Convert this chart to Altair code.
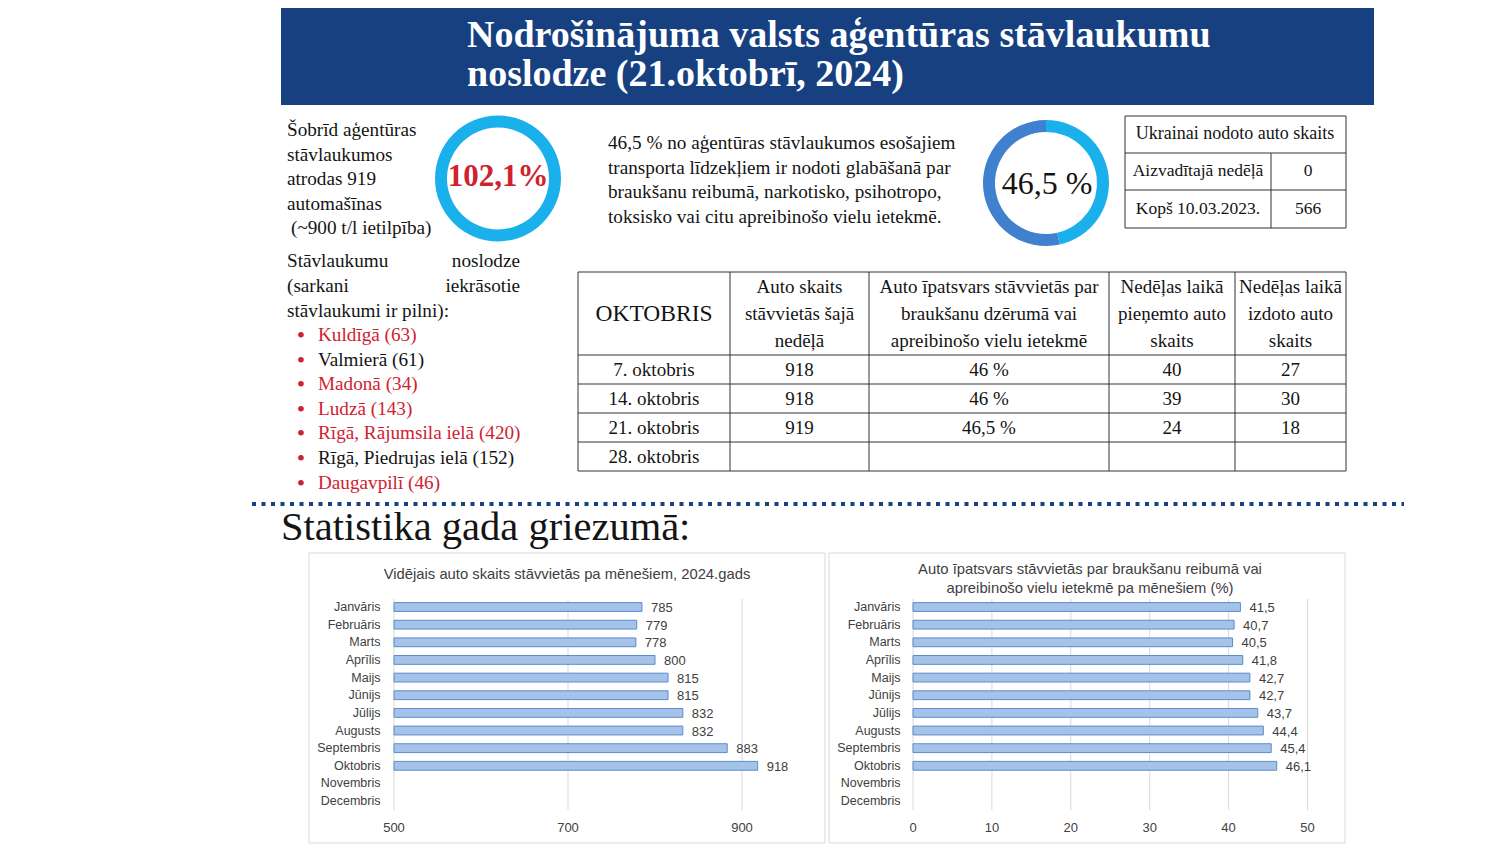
import altair as alt
import pandas as pd

OFF = 8  # page margin


def P(v):
    return v - OFF


SERIF = "Liberation Serif"
SANS = "Liberation Sans"
INK = "#141414"
RED = "#d0212f"
NAVY = "#16407f"
GREY_TXT = "#404040"

# ---------------- data ----------------
title_lines = ["Nodrošinājuma valsts aģentūras stāvlaukumu", "noslodze (21.oktobrī, 2024)"]
occupancy_pct = [102.1]
occupancy_label = "102,1%"
intro_lines = ["Šobrīd aģentūras", "stāvlaukumos", "atrodas 919", "automašīnas", "(~900 t/l ietilpība)"]
load_left = ["Stāvlaukumu", "(sarkani", "stāvlaukumi ir pilni):"]
load_right = ["noslodze", "iekrāsotie"]
lots = ["Kuldīgā (63)", "Valmierā (61)", "Madonā (34)", "Ludzā (143)",
        "Rīgā, Rājumsila ielā (420)", "Rīgā, Piedrujas ielā (152)", "Daugavpilī (46)"]
lots_full = [True, False, True, True, True, False, True]
dui_parts = ["reibumā", "citi"]
dui_share = [46.5, 53.5]
dui_label = "46,5 %"
dui_lines = ["46,5 % no aģentūras stāvlaukumos esošajiem",
             "transporta līdzekļiem ir nodoti glabāšanā par",
             "braukšanu reibumā, narkotisko, psihotropo,",
             "toksisko vai citu apreibinošo vielu ietekmē."]
ukr_title = "Ukrainai nodoto auto skaits"
ukr_rows = ["Aizvadītajā nedēļā", "Kopš 10.03.2023."]
ukr_vals = ["0", "566"]
table_head = "OKTOBRIS"
col_heads = [["Auto skaits", "stāvvietās šajā", "nedēļā"],
             ["Auto īpatsvars stāvvietās par", "braukšanu dzērumā vai", "apreibinošo vielu ietekmē"],
             ["Nedēļas laikā", "pieņemto auto", "skaits"],
             ["Nedēļas laikā", "izdoto auto", "skaits"]]
weeks = ["7. oktobris", "14. oktobris", "21. oktobris", "28. oktobris"]
week_cars = ["918", "918", "919", ""]
week_share = ["46 %", "46 %", "46,5 %", ""]
week_in = ["40", "39", "24", ""]
week_out = ["27", "30", "18", ""]
section_title = "Statistika gada griezumā:"
months = ["Janvāris", "Februāris", "Marts", "Aprīlis", "Maijs", "Jūnijs", "Jūlijs",
          "Augusts", "Septembris", "Oktobris", "Novembris", "Decembris"]
avg_cars = [785, 779, 778, 800, 815, 815, 832, 832, 883, 918]
dui_monthly = [41.5, 40.7, 40.5, 41.8, 42.7, 42.7, 43.7, 44.4, 45.4, 46.1]
chart1_title = ["Vidējais auto skaits stāvvietās pa mēnešiem, 2024.gads"]
chart2_title = ["Auto īpatsvars stāvvietās par braukšanu reibumā vai",
                "apreibinošo vielu ietekmē pa mēnešiem (%)"]
ticks1 = [500, 700, 900]
ticks2 = [0, 10, 20, 30, 40, 50]

# ---------------- helpers ----------------
PX = dict(scale=None, axis=None)
BODY = 19.2


def text_layer(rows, align="left", font=SERIF, weight="normal"):
    df = pd.DataFrame(rows, columns=["x", "y", "t", "c", "s"])
    df["x"] = df["x"] - OFF
    df["y"] = df["y"] - OFF
    return alt.Chart(df).mark_text(align=align, baseline="middle", font=font, fontWeight=weight).encode(
        x=alt.X("x:Q", **PX),
        y=alt.Y("y:Q", **PX),
        text="t:N",
        color=alt.Color("c:N", scale=None),
        size=alt.Size("s:Q", scale=None),
    )


def rule_layer(segs, color, width, dash=None):
    df = pd.DataFrame(segs, columns=["x", "y", "x2", "y2"]) - OFF
    kw = dict(color=color, strokeWidth=width)
    if dash:
        kw["strokeDash"] = dash
    return alt.Chart(df).mark_rule(**kw).encode(
        x=alt.X("x:Q", **PX), y=alt.Y("y:Q", **PX), x2="x2:Q", y2="y2:Q")


def rect_layer(boxes, fill=None, stroke=None, sw=1):
    df = pd.DataFrame(boxes, columns=["x", "y", "x2", "y2"]) - OFF
    kw = {}
    if fill:
        kw["fill"] = fill
    else:
        kw["fillOpacity"] = 0
    if stroke:
        kw["stroke"] = stroke
        kw["strokeWidth"] = sw
    return alt.Chart(df).mark_rect(**kw).encode(
        x=alt.X("x:Q", **PX), y=alt.Y("y:Q", **PX), x2="x2:Q", y2="y2:Q")


layers = []

# header
layers.append(rect_layer([(281, 8, 1374, 105)], fill=NAVY))
layers.append(text_layer([(467, 36 + 39 * i, t, "#ffffff", 38) for i, t in enumerate(title_lines)],
                         weight="bold"))

# left intro text
rows = [(287, 130 + 24.5 * i, t, INK, BODY) for i, t in enumerate(intro_lines)]
rows[-1] = (291, rows[-1][1], rows[-1][2], INK, BODY)
rows += [(287, 261 + 25 * i, t, INK, BODY) for i, t in enumerate(load_left)]
rows += [(318, 335 + 24.6 * i, t, RED if f else INK, BODY) for i, (t, f) in enumerate(zip(lots, lots_full))]
layers.append(text_layer(rows))
layers.append(text_layer([(520, 261 + 25 * i, t, INK, BODY) for i, t in enumerate(load_right)], align="right"))
layers.append(text_layer([(301, 336 + 24.6 * i, "•", RED, 24) for i in range(len(lots))], align="center"))

# donut 1
layers.append(alt.Chart(pd.DataFrame({"v": occupancy_pct})).mark_arc(
    innerRadius=51, outerRadius=63, color="#1ab0ec").encode(
    theta=alt.Theta("v:Q"), x=alt.value(P(498)), y=alt.value(P(178.5))))
layers.append(text_layer([(498, 177, occupancy_label, RED, 31)], align="center", weight="bold"))

# middle text
layers.append(text_layer([(608, 143 + 24.7 * i, t, INK, BODY) for i, t in enumerate(dui_lines)]))

# donut 2
d2 = pd.DataFrame({"part": dui_parts, "v": dui_share, "o": [0, 1]})
layers.append(alt.Chart(d2).mark_arc(innerRadius=51, outerRadius=63).encode(
    theta=alt.Theta("v:Q"),
    color=alt.Color("part:N", scale=alt.Scale(domain=dui_parts, range=["#1ab0ec", "#3f80cf"]), legend=None),
    order=alt.Order("o:Q"),
    x=alt.value(P(1046)), y=alt.value(P(183))))
layers.append(text_layer([(1047, 184, dui_label, INK, 32)], align="center"))

# small table
layers.append(rect_layer([(1125, 116, 1346, 228)], stroke="#333333"))
layers.append(rule_layer([(1125, 153, 1346, 153), (1125, 190, 1346, 190), (1271, 153, 1271, 228)], "#333333", 1))
st = [(1235, 134, ukr_title, INK, 18)]
st += [(1198, 171 + 37.5 * i, t, INK, 17.5) for i, t in enumerate(ukr_rows)]
st += [(1308, 171 + 37.5 * i, t, INK, 17.5) for i, t in enumerate(ukr_vals)]
layers.append(text_layer(st, align="center"))

# big table
cols_x = [578, 730, 869, 1109, 1235, 1346]
rows_y = [272, 355, 384, 413, 442, 471]
segs = [(x, 272, x, 471) for x in cols_x] + [(578, y, 1346, y) for y in rows_y]
layers.append(rule_layer(segs, "#333333", 1))
centers = [(cols_x[i] + cols_x[i + 1]) / 2 for i in range(5)]
bt = [(centers[0], 314, table_head, INK, 23.5)]
for ci, lines in enumerate(col_heads):
    for li, t in enumerate(lines):
        bt.append((centers[ci + 1], 287 + 27 * li, t, INK, 19))
for ri, row in enumerate(zip(weeks, week_cars, week_share, week_in, week_out)):
    for ci, t in enumerate(row):
        if t:
            bt.append((centers[ci], 370 + 29 * ri, t, INK, 19))
layers.append(text_layer(bt, align="center"))

# dotted separator + section title
layers.append(rule_layer([(252, 504, 1404, 504)], NAVY, 4, dash=[4, 5.5]))
layers.append(text_layer([(281, 528, section_title, INK, 40.5)]))

# chart panels
layers.append(rect_layer([(309, 553, 825, 843), (829, 553, 1345, 843)], fill="#ffffff", stroke="#d9d9d9"))
layers.append(text_layer([(567, 575, chart1_title[0], GREY_TXT, 14.8)] +
                         [(1090, 570 + 19 * i, t, GREY_TXT, 14.8) for i, t in enumerate(chart2_title)],
                         align="center", font=SANS))


def bar_panel(values, labels, ticks, dom, xr, label_x):
    yscale = alt.Scale(domain=months, range=[P(598.2), P(809.9)], paddingInner=0.5, paddingOuter=0.25)
    xscale = alt.Scale(domain=dom, range=[P(xr[0]), P(xr[1])], nice=False, zero=False)
    df = pd.DataFrame({"m": months[:len(values)], "v": values, "lab": labels})
    grid = alt.Chart(pd.DataFrame({"t": ticks})).mark_rule(color="#d9d9d9", strokeWidth=1).encode(
        x=alt.X("t:Q", scale=xscale, axis=None), y=alt.value(P(599)), y2=alt.value(P(810)))
    bars = alt.Chart(df).mark_bar(color="#a5c3e9", stroke="#5b8ccb", strokeWidth=1).encode(
        x=alt.X("v:Q", scale=xscale, axis=None, stack=None),
        x2=alt.datum(dom[0]),
        y=alt.Y("m:N", scale=yscale, axis=None, sort=months))
    mlab = alt.Chart(pd.DataFrame({"m": months})).mark_text(
        align="right", baseline="middle", font=SANS, fontSize=12.5, color=GREY_TXT).encode(
        y=alt.Y("m:N", scale=yscale, axis=None, sort=months), x=alt.value(P(label_x)), text="m:N")
    vlab = alt.Chart(df).mark_text(
        align="left", baseline="middle", font=SANS, fontSize=13, color=GREY_TXT, dx=9, dy=1).encode(
        x=alt.X("v:Q", scale=xscale, axis=None),
        y=alt.Y("m:N", scale=yscale, axis=None, sort=months), text="lab:N")
    tlab = alt.Chart(pd.DataFrame({"t": ticks})).mark_text(
        align="center", baseline="middle", font=SANS, fontSize=13, color=GREY_TXT).encode(
        x=alt.X("t:Q", scale=xscale, axis=None), y=alt.value(P(828)), text="t:N")
    return alt.layer(grid, bars, mlab, vlab, tlab)


layers.append(bar_panel(avg_cars, [str(v) for v in avg_cars], ticks1, [500, 900], (394, 742), 380.5))
layers.append(bar_panel(dui_monthly, [f"{v:.1f}".replace(".", ",") for v in dui_monthly],
                        ticks2, [0, 50], (913, 1307.5), 900.5))

chart = alt.layer(*layers).resolve_scale(
    x="independent", y="independent", color="independent", size="independent", theta="independent"
).properties(width=1484, height=844, autosize="none", padding=0, background="#ffffff"
             ).configure_view(strokeWidth=0)

chart.save("out.html", embed_options={"renderer": "svg", "actions": False})
